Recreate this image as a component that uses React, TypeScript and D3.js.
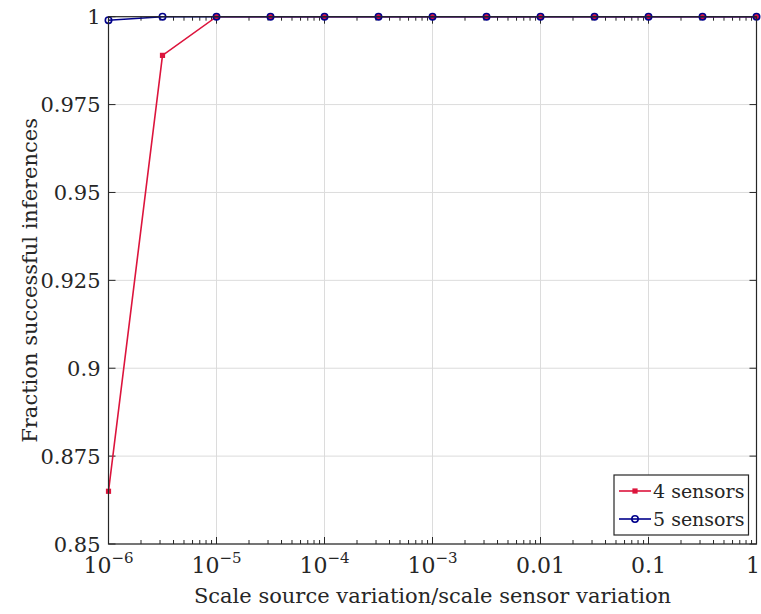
import { scaleLog, scaleLinear, line } from "d3";

// Data
const xValues = [1e-6, 3.162e-6, 1e-5, 3.162e-5, 1e-4, 3.162e-4, 1e-3, 3.162e-3, 0.01, 0.03162, 0.1, 0.3162, 1];
const fourSensors = [0.865, 0.989, 1, 1, 1, 1, 1, 1, 1, 1, 1, 1, 1];
const fiveSensors = [0.999, 1, 1, 1, 1, 1, 1, 1, 1, 1, 1, 1, 1];
const xTicks = [1e-6, 1e-5, 1e-4, 1e-3, 0.01, 0.1, 1];
const xTickBase = ["10", "10", "10", "10", "0.01", "0.1", "1"];
const xTickExp = ["−6", "−5", "−4", "−3", "", "", ""];
const yTicks = [0.85, 0.875, 0.9, 0.925, 0.95, 0.975, 1];
const yTickLabels = ["0.85", "0.875", "0.9", "0.925", "0.95", "0.975", "1"];

const W = 761;
const H = 614;
const left = 108.5;
const right = 756.5;
const top = 16.7;
const bottom = 544;

const font = "DejaVu Serif";
const axisColor = "#262626";
const red = "#dc143c";
const blue = "#00008b";

export default function App() {
  const x = scaleLog().domain([1e-6, 1]).range([left, right]);
  const y = scaleLinear().domain([0.85, 1]).range([bottom, top]);

  const pts = (vals: number[]) => xValues.map((xv, i) => [x(xv), y(vals[i])] as [number, number]);
  const path = line<[number, number]>();

  // minor ticks for each decade
  const minor: number[] = [];
  for (let e = -6; e < 0; e++) {
    for (let m = 2; m <= 9; m++) minor.push(m * Math.pow(10, e));
  }

  return (
    <svg width={W} height={H} style={{ position: "absolute", left: 0, top: 0, background: "#fff" }}>
      <rect x={0} y={0} width={W} height={H} fill="#fff" />
      {/* grid */}
      <g stroke="#dcdcdc" strokeWidth={1}>
        {xTicks.map((t) => (
          <line key={"gx" + t} x1={x(t)} x2={x(t)} y1={top} y2={bottom} />
        ))}
        {yTicks.map((t) => (
          <line key={"gy" + t} x1={left} x2={right} y1={y(t)} y2={y(t)} />
        ))}
      </g>
      {/* ticks */}
      <g stroke={axisColor} strokeWidth={1}>
        {xTicks.map((t) => (
          <g key={"tx" + t}>
            <line x1={x(t)} x2={x(t)} y1={bottom} y2={bottom - 7} />
            <line x1={x(t)} x2={x(t)} y1={top} y2={top + 7} />
          </g>
        ))}
        {minor.map((t) => (
          <g key={"mx" + t}>
            <line x1={x(t)} x2={x(t)} y1={bottom} y2={bottom - 4} />
            <line x1={x(t)} x2={x(t)} y1={top} y2={top + 4} />
          </g>
        ))}
        {yTicks.map((t) => (
          <g key={"ty" + t}>
            <line x1={left} x2={left + 7} y1={y(t)} y2={y(t)} />
            <line x1={right} x2={right - 7} y1={y(t)} y2={y(t)} />
          </g>
        ))}
      </g>
      {/* series */}
      <path d={path(pts(fourSensors)) ?? ""} fill="none" stroke={red} strokeWidth={1.6} />
      {pts(fourSensors).map(([px, py], i) => (
        <rect key={"s4" + i} x={px - 2.6} y={py - 2.6} width={5.2} height={5.2} fill={red} />
      ))}
      <path d={path(pts(fiveSensors)) ?? ""} fill="none" stroke={blue} strokeWidth={1.6} />
      {pts(fiveSensors).map(([px, py], i) => (
        <circle key={"s5" + i} cx={px} cy={py} r={3.2} fill="none" stroke={blue} strokeWidth={1.6} />
      ))}
      {/* box */}
      <rect x={left} y={top} width={right - left} height={bottom - top} fill="none" stroke={axisColor} strokeWidth={1.2} />
      {/* tick labels */}
      <g fontFamily={font} fill={axisColor}>
        {xTicks.map((t, i) => (
          <text key={"lx" + t} x={Math.min(x(t), W - 8)} y={573} fontSize={22} textAnchor="middle">
            {xTickBase[i]}
            {xTickExp[i] && (
              <tspan fontSize={15} dy={-10}>
                {xTickExp[i]}
              </tspan>
            )}
          </text>
        ))}
        {yTicks.map((t, i) => (
          <text key={"ly" + t} x={left - 8} y={y(t) + 7.5} fontSize={21} textAnchor="end">
            {yTickLabels[i]}
          </text>
        ))}
        <text x={(left + right) / 2} y={603} fontSize={21} textAnchor="middle">
          Scale source variation/scale sensor variation
        </text>
        <text
          transform={`translate(37, ${(top + bottom) / 2}) rotate(-90)`}
          fontSize={21}
          textAnchor="middle"
        >
          Fraction successful inferences
        </text>
      </g>
      {/* legend */}
      <g>
        <rect x={614} y={475} width={134.5} height={60} fill="#fff" stroke={axisColor} strokeWidth={1.2} />
        <line x1={619} x2={651} y1={491} y2={491} stroke={red} strokeWidth={1.6} />
        <rect x={632.4} y={488.4} width={5.2} height={5.2} fill={red} />
        <text x={653} y={498} fontFamily={font} fontSize={19} fill={axisColor}>4 sensors</text>
        <line x1={619} x2={651} y1={519} y2={519} stroke={blue} strokeWidth={1.6} />
        <circle cx={635} cy={519} r={3.2} fill="none" stroke={blue} strokeWidth={1.6} />
        <text x={653} y={526} fontFamily={font} fontSize={19} fill={axisColor}>5 sensors</text>
      </g>
    </svg>
  );
}
